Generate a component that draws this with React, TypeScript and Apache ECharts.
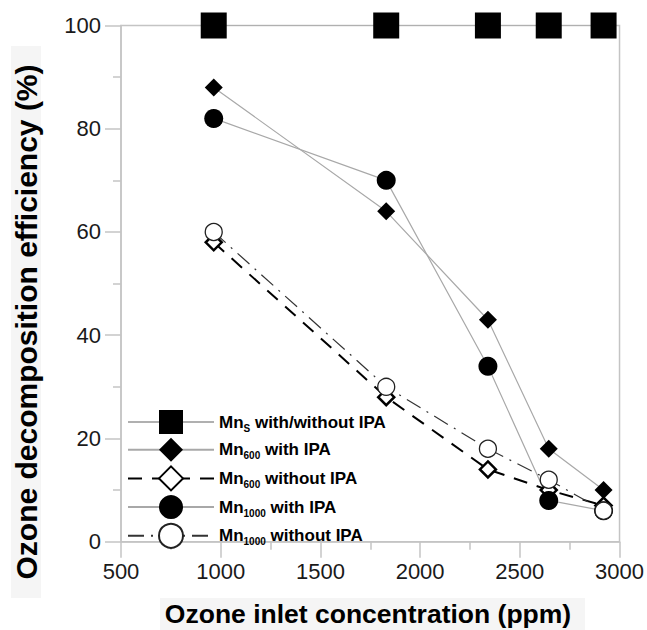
import React, { useEffect, useRef } from "react";
import * as echarts from "echarts";

const xValues = [965, 1830, 2340, 2645, 2920];
const mnS = [100, 100, 100, 100, 100];
const mn600With = [88, 64, 43, 18, 10];
const mn600Without = [58, 28, 14, 10, 7];
const mn1000With = [82, 70, 34, 8, 6];
const mn1000Without = [60, 30, 18, 12, 6];

const seriesNames = [
  "Mn_S with/without IPA",
  "Mn_600 with IPA",
  "Mn_600 without IPA",
  "Mn_1000 with IPA",
  "Mn_1000 without IPA",
];
const legendRich = [
  "Mn{sub|S} with/without IPA",
  "Mn{sub|600} with IPA",
  "Mn{sub|600} without IPA",
  "Mn{sub|1000} with IPA",
  "Mn{sub|1000} without IPA",
];

const FONT = "'Liberation Sans', Arial, sans-serif";

function pairs(ys: number[]) {
  return xValues.map((x, i) => [x, ys[i]]);
}

export default function App() {
  const ref = useRef<HTMLDivElement>(null);
  useEffect(() => {
    if (!ref.current) return;
    const chart = echarts.init(ref.current, undefined, { renderer: "svg" });
    const axisColor = "#c4c4c4";
    const labelStyle = { color: "#1a1a1a", fontSize: 22, fontFamily: FONT };
    chart.setOption({
      animation: false,
      backgroundColor: "#ffffff",
      grid: {
        left: 121,
        right: 27,
        top: 25.5,
        bottom: 88.3,
        show: true,
        borderColor: axisColor,
        borderWidth: 1.5,
        backgroundColor: "transparent",
      },
      xAxis: {
        type: "value",
        min: 500,
        max: 3000,
        interval: 500,
        axisLine: { show: true, lineStyle: { color: axisColor, width: 1.5 } },
        axisTick: { show: true, length: 16, inside: false, lineStyle: { color: axisColor, width: 1.5 } },
        minorTick: { show: true, splitNumber: 2, length: 8, lineStyle: { color: axisColor, width: 1.5 } },
        splitLine: { show: false },
        axisLabel: { ...labelStyle, margin: 19, formatter: (v: number) => String(v) },
      },
      yAxis: {
        type: "value",
        min: 0,
        max: 100,
        interval: 20,
        axisLine: { show: true, lineStyle: { color: axisColor, width: 1.5 } },
        axisTick: { show: true, length: 16, inside: false, lineStyle: { color: axisColor, width: 1.5 } },
        minorTick: { show: true, splitNumber: 2, length: 8, lineStyle: { color: axisColor, width: 1.5 } },
        splitLine: { show: false },
        axisLabel: { ...labelStyle, margin: 20, formatter: (v: number) => String(v) },
      },
      legend: {
        orient: "vertical",
        left: 122,
        top: 405,
        itemWidth: 86,
        itemHeight: 30,
        itemGap: 3.7,
        data: seriesNames,
        formatter: (name: string) => legendRich[seriesNames.indexOf(name)],
        textStyle: {
          color: "#000",
          fontFamily: FONT,
          fontWeight: "bold",
          fontSize: 17,
          lineHeight: 22,
          rich: {
            sub: {
              fontFamily: FONT,
              fontWeight: "bold",
              fontSize: 10,
              lineHeight: 10,
              verticalAlign: "bottom",
              color: "#000",
            },
          },
        },
      },
      graphic: [
        { type: "rect", shape: { x: 11, y: 46, width: 30, height: 552 }, style: { fill: "#f5f5f5" }, z: -10 },
        {
          type: "text",
          x: 26,
          y: 322,
          rotation: Math.PI / 2,
          style: {
            text: "Ozone decomposition efficiency (%)",
            font: `bold 30px ${FONT}`,
            fill: "#000",
            textAlign: "center",
            textVerticalAlign: "middle",
          },
        },
        { type: "rect", shape: { x: 160, y: 598, width: 425, height: 32 }, style: { fill: "#f5f5f5" }, z: -10 },
        {
          type: "text",
          x: 368,
          y: 614,
          style: {
            text: "Ozone inlet concentration (ppm)",
            font: `bold 26.5px ${FONT}`,
            fill: "#000",
            textAlign: "center",
            textVerticalAlign: "middle",
          },
        },
      ],
      series: [
        {
          name: seriesNames[0],
          type: "line",
          data: pairs(mnS),
          symbol: "rect",
          symbolSize: 26,
          clip: false,
          lineStyle: { color: "#b0b0b0", width: 1.2 },
          itemStyle: { color: "#000", borderWidth: 0 },
        },
        {
          name: seriesNames[1],
          type: "line",
          data: pairs(mn600With),
          symbol: "diamond",
          symbolSize: 18,
          clip: false,
          lineStyle: { color: "#a8a8a8", width: 1.2 },
          itemStyle: { color: "#000", borderWidth: 0 },
        },
        {
          name: seriesNames[2],
          type: "line",
          data: pairs(mn600Without),
          symbol: "diamond",
          symbolSize: 16,
          clip: false,
          lineStyle: { color: "#000", width: 2, type: [14, 10] },
          itemStyle: { color: "#fff", borderColor: "#000", borderWidth: 2.5 },
        },
        {
          name: seriesNames[3],
          type: "line",
          data: pairs(mn1000With),
          symbol: "circle",
          symbolSize: 19,
          clip: false,
          lineStyle: { color: "#a8a8a8", width: 1.2 },
          itemStyle: { color: "#000", borderWidth: 0 },
        },
        {
          name: seriesNames[4],
          type: "line",
          data: pairs(mn1000Without),
          symbol: "circle",
          symbolSize: 17,
          clip: false,
          lineStyle: { color: "#333", width: 1.2, type: [16, 7, 2, 7] },
          itemStyle: { color: "#fff", borderColor: "#222", borderWidth: 1.3 },
        },
      ],
    });
    return () => chart.dispose();
  }, []);
  return (
    <div
      ref={ref}
      style={{ position: "fixed", left: 0, top: 0, width: 647, height: 630, background: "#fff" }}
    />
  );
}
